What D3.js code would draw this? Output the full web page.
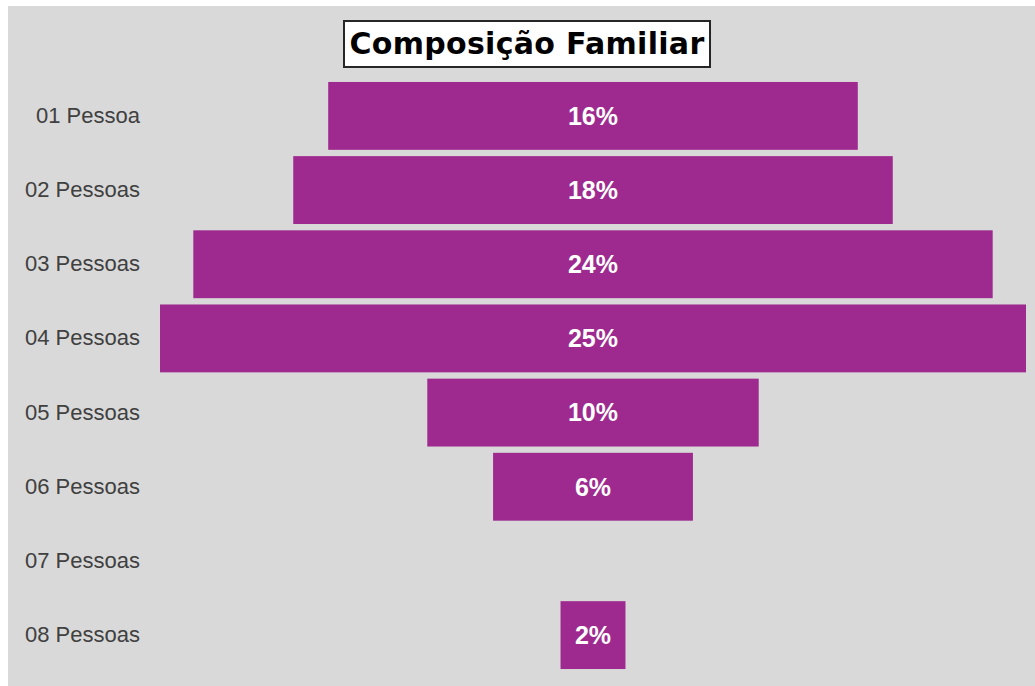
<!DOCTYPE html>
<html>
<head>
<meta charset="utf-8">
<script src="https://cdn.jsdelivr.net/npm/d3@7"></script>
<style>
  body { margin: 0; background: #fff; }
</style>
</head>
<body>
<div id="chart"></div>
<script>
// categories, bar values (share in %) and the printed labels
const categories = ["01 Pessoa", "02 Pessoas", "03 Pessoas", "04 Pessoas", "05 Pessoas", "06 Pessoas", "07 Pessoas", "08 Pessoas"];
const values = [15.9, 18.0, 24.0, 26.0, 9.95, 6.0, 0, 1.95];
const valueLabels = ["16%", "18%", "24%", "25%", "10%", "6%", "", "2%"];

const W = 1035, H = 686;
const centerX = 593;

const svg = d3.select("#chart").append("svg")
  .attr("width", W)
  .attr("height", H);

// chart area background
svg.append("rect")
  .attr("x", 8).attr("y", 6)
  .attr("width", W - 8).attr("height", H - 6)
  .attr("fill", "#d9d9d9");

// scales
let y = d3.scaleBand()
  .domain(categories)
  .range([79, 672])
  .paddingInner(0.085)
  .paddingOuter(0.04);

let x = d3.scaleLinear()
  .domain([0, 26])
  .range([0, 866]);

// bars, centred to make the funnel
svg.selectAll(".bar")
  .data(categories)
  .enter().append("rect")
  .attr("class", "bar")
  .attr("x", (d, i) => centerX - x(values[i]) / 2)
  .attr("y", d => y(d))
  .attr("width", (d, i) => x(values[i]))
  .attr("height", y.bandwidth())
  .attr("fill", "#9e2a8f");

// value labels
svg.selectAll(".val")
  .data(categories)
  .enter().append("text")
  .attr("class", "val")
  .attr("x", centerX)
  .attr("y", d => y(d) + y.bandwidth() / 2)
  .attr("dy", "0.35em")
  .attr("text-anchor", "middle")
  .style("font-family", "Liberation Sans, Arial, sans-serif")
  .style("font-weight", "bold")
  .style("font-size", "25px")
  .attr("fill", "#fff")
  .text((d, i) => valueLabels[i]);

// category axis
let axis = svg.append("g")
  .attr("transform", "translate(140,0)")
  .call(d3.axisLeft(y).tickSize(0).tickPadding(0));
axis.select(".domain").remove();
axis.selectAll("text")
  .style("font-family", "Liberation Sans, Arial, sans-serif")
  .style("font-size", "22px")
  .attr("fill", "#404040");

// title with box
let tg = svg.append("g");
tg.append("rect")
  .attr("x", 344).attr("y", 21)
  .attr("width", 366).attr("height", 46)
  .attr("fill", "#fff")
  .attr("stroke", "#262626")
  .attr("stroke-width", 2);
tg.append("text")
  .attr("x", 527)
  .attr("y", 54)
  .attr("text-anchor", "middle")
  .style("font-family", "DejaVu Sans, Verdana, sans-serif")
  .style("font-weight", "bold")
  .style("font-size", "30px")
  .style("letter-spacing", "0.3px")
  .attr("fill", "#000")
  .text("Composição Familiar");
</script>
</body>
</html>
